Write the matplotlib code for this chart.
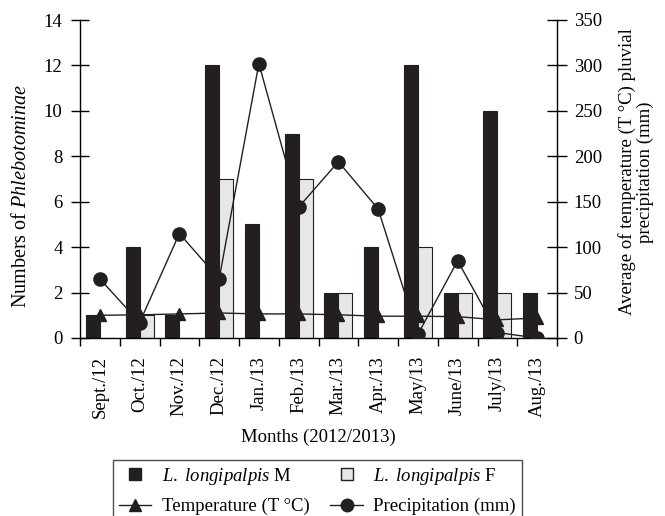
import matplotlib
matplotlib.use("Agg")
import matplotlib.pyplot as plt
import numpy as np
from matplotlib.lines import Line2D

months = ["Sept./12", "Oct./12", "Nov./12", "Dec./12", "Jan./13", "Feb./13",
          "Mar./13", "Apr./13", "May/13", "June/13", "July/13", "Aug./13"]
males = [1, 4, 1, 12, 5, 9, 2, 4, 12, 2, 10, 2]
females = [0, 1, 0, 7, 0, 7, 2, 0, 4, 2, 2, 0]
temperature = [25, 25.5, 26.5, 27.5, 26.5, 26.5, 25.5, 24, 24, 23.5, 20, 22]
precipitation = [65, 17, 115, 65, 302, 144, 194, 142, 4, 85, 6, 0]

plt.rcParams['font.family'] = ['Liberation Serif', 'DejaVu Serif']
plt.rcParams['mathtext.fontset'] = 'custom'
plt.rcParams['mathtext.rm'] = 'Liberation Serif'
plt.rcParams['mathtext.it'] = 'Liberation Serif:italic'

FS = 13.5
fig = plt.figure(figsize=(6.65, 5.16), dpi=100)
ax = fig.add_axes([80/665, 1-338/516, (557-80)/665, (338-20)/516])
ax2 = ax.twinx()

x = np.arange(len(months))
w = 0.35
dark = '#231f20'
light = '#e6e7e8'
ax.bar(x - w/2, males, w, color=dark, edgecolor=dark, linewidth=0.8, zorder=2)
ax.bar(x + w/2, females, w, color=light, edgecolor=dark, linewidth=0.8, zorder=2)

ax2.plot(x, temperature, color=dark, lw=1, marker='^', ms=9, zorder=3)
ax2.plot(x, precipitation, color=dark, lw=1, marker='o', ms=9.5, zorder=3)

ax.set_xlim(-0.5, len(months) - 0.5)
ax.set_ylim(0, 14)
ax.set_yticks(range(0, 15, 2))
ax2.set_ylim(0, 350)
ax2.set_yticks(range(0, 351, 50))

ax.set_xticks(x)
ax.set_xticklabels(months, rotation=90, fontsize=FS)
ax.tick_params(axis='x', length=0, pad=13)
ax.set_xticks(np.arange(-0.5, len(months), 1), minor=True)
ax.tick_params(axis='x', which='minor', length=6, direction='out', width=1)
ax.tick_params(axis='y', direction='inout', length=13, width=1, labelsize=FS, pad=6)
ax2.tick_params(axis='y', direction='inout', length=14, width=1, labelsize=FS, pad=5)

for a in (ax, ax2):
    a.spines['top'].set_visible(False)
ax.spines['right'].set_visible(False)
for s in ['left', 'bottom']:
    ax.spines[s].set_linewidth(1)
ax2.spines['right'].set_linewidth(1)
ax2.spines['left'].set_visible(False)
ax2.spines['bottom'].set_visible(False)

ax.set_ylabel(r"Numbers of $\mathit{Phlebotominae}$", fontsize=14.5)
ax.yaxis.set_label_coords((31 - 80) / 477, (338 - 196) / 318)
ax2.set_ylabel("Average of temperature (T °C) pluvial\nprecipitation (mm)",
               fontsize=13.5, labelpad=12, linespacing=1.05)
ax2.yaxis.label.set_y((338 - 172) / 318)
ax.set_xlabel("Months (2012/2013)", fontsize=FS, labelpad=8)

handles = [
    Line2D([], [], color=dark, lw=0, marker='s', ms=8, markeredgecolor=dark),
    Line2D([], [], color=dark, lw=1, marker='^', ms=9),
    Line2D([], [], color=light, lw=0, marker='s', ms=8, markeredgecolor=dark,
           markeredgewidth=1),
    Line2D([], [], color=dark, lw=1, marker='o', ms=9),
]
labels = [r"$\mathit{L.\ longipalpis}$ M", "Temperature (T °C)",
          r"$\mathit{L.\ longipalpis}$ F", "Precipitation (mm)"]
leg = fig.legend(handles, labels, ncol=2, loc='upper left',
                 bbox_to_anchor=(113/665, 1-460/516), borderaxespad=0,
                 fontsize=FS, frameon=True, fancybox=False, edgecolor=dark,
                 handlelength=1.75, handletextpad=0.55, columnspacing=1.1,
                 labelspacing=0.6, borderpad=0.3)
leg.get_frame().set_linewidth(1)

fig.savefig("out.png", dpi=100)
